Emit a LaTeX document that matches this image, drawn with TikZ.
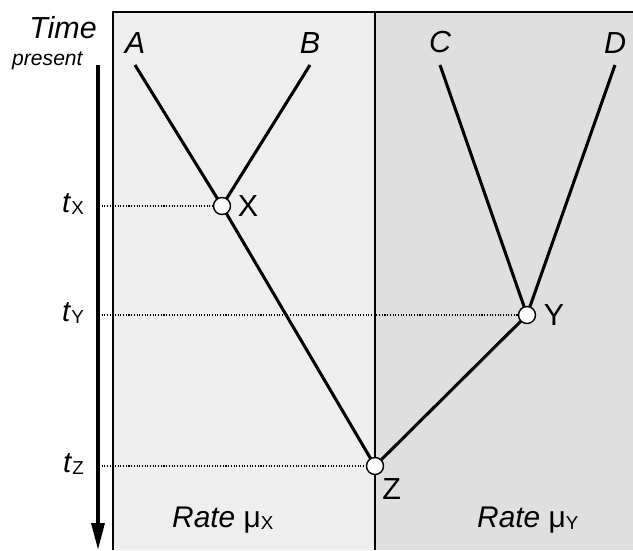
\documentclass[tikz,border=0pt]{standalone}
\usepackage{fontspec}
\setmainfont{Liberation Sans}
\usetikzlibrary{positioning,arrows.meta}
\definecolor{panelX}{gray}{0.935}
\definecolor{panelY}{gray}{0.875}
\newcommand{\gtsub}[1]{\raisebox{-2.5pt}{\fontsize{16}{16}\selectfont #1}}
\tikzset{
 gt branch/.style={line width=2.6pt},
 gt panel/.style={line width=1.1pt},
 gt guide/.style={line width=.9pt,dash pattern=on .9pt off 1.4pt},
 gt axis/.style={line width=3pt,-{Triangle[length=23pt,width=11pt]}},
 gt node/.style={circle,fill=white,draw=black,line width=1.2pt,
                 minimum size=14.5pt,inner sep=0pt,outer sep=0pt},
 gt tip label/.style={font=\fontsize{26}{26}\selectfont\itshape,inner sep=0pt},
 gt node label/.style={font=\fontsize{26}{26}\selectfont,inner sep=0pt},
 gt time label/.style={font=\fontsize{25}{25}\selectfont,inner sep=0pt,
                       anchor=base east},
 gt rate label/.style={font=\fontsize{25.5}{25.5}\selectfont,inner sep=0pt,
                       anchor=base west}
}

\begin{document}
\begin{tikzpicture}[x=.03cm,y=-.03cm]
 \useasboundingbox (0,0) rectangle (633,550);
 \fill[panelX] (113,12) rectangle (375,550);
 \fill[panelY] (375,12) rectangle (633,550);
 \draw[gt panel] (113,550)--(113,12)--(633,12);
 \draw[gt panel] (375,12)--(375,550);

 \coordinate (a) at (135,65);
 \coordinate (b) at (310,65);
 \coordinate (c) at (440,65);
 \coordinate (d) at (615,65);
 \coordinate (nX) at (222,206);
 \coordinate (nY) at (527,315);
 \coordinate (nZ) at (375,466);
 \coordinate (now) at (98,65);
 \coordinate (past) at (98,550);

 \node[gt tip label,above=10pt of a] (A) {A};
 \node[gt tip label,above=10pt of b] (B) {B};
 \node[gt tip label,above=10pt of c] (C) {C};
 \node[gt tip label,above=10pt of d] (D) {D};

 \node[gt time label,font=\fontsize{26}{26}\selectfont\itshape] (time) at (97,38) {Time};
 \node[inner sep=0pt,anchor=base west,font=\fontsize{18}{18}\selectfont\itshape]
   (present) at (12,65) {present};
 \draw[gt axis] (now)--(past);

 \node[gt time label] (tX) at (84,212) {\textit{t}\gtsub{X}};
 \node[gt time label] (tY) at (84,321) {\textit{t}\gtsub{Y}};
 \node[gt time label] (tZ) at (84,472) {\textit{t}\gtsub{Z}};
 \draw[gt guide] (now |- nX) ++(3pt,0)--(nX);
 \draw[gt guide] (now |- nY) ++(3pt,0)--(nY);
 \draw[gt guide] (now |- nZ) ++(3pt,0)--(nZ);

 \draw[gt branch] (a)--(nX) (b)--(nX) (nX)--(nZ);
 \draw[gt branch] (c)--(nY) (d)--(nY) (nY)--(nZ);
 \foreach \v in {X,Y,Z} \node[gt node] (\v) at (n\v) {};
 \node[gt node label,right=6pt of X] (lX) {X};
 \node[gt node label,right=7pt of Y] (lY) {Y};
 \node[gt node label,below right=3pt and 6pt of Z.south] (lZ) {Z};

 \node[gt rate label] (rX) at (172,527) {\textit{Rate} μ\gtsub{X}};
 \node[gt rate label] (rY) at (477,527) {\textit{Rate} μ\gtsub{Y}};
\end{tikzpicture}
\end{document}
